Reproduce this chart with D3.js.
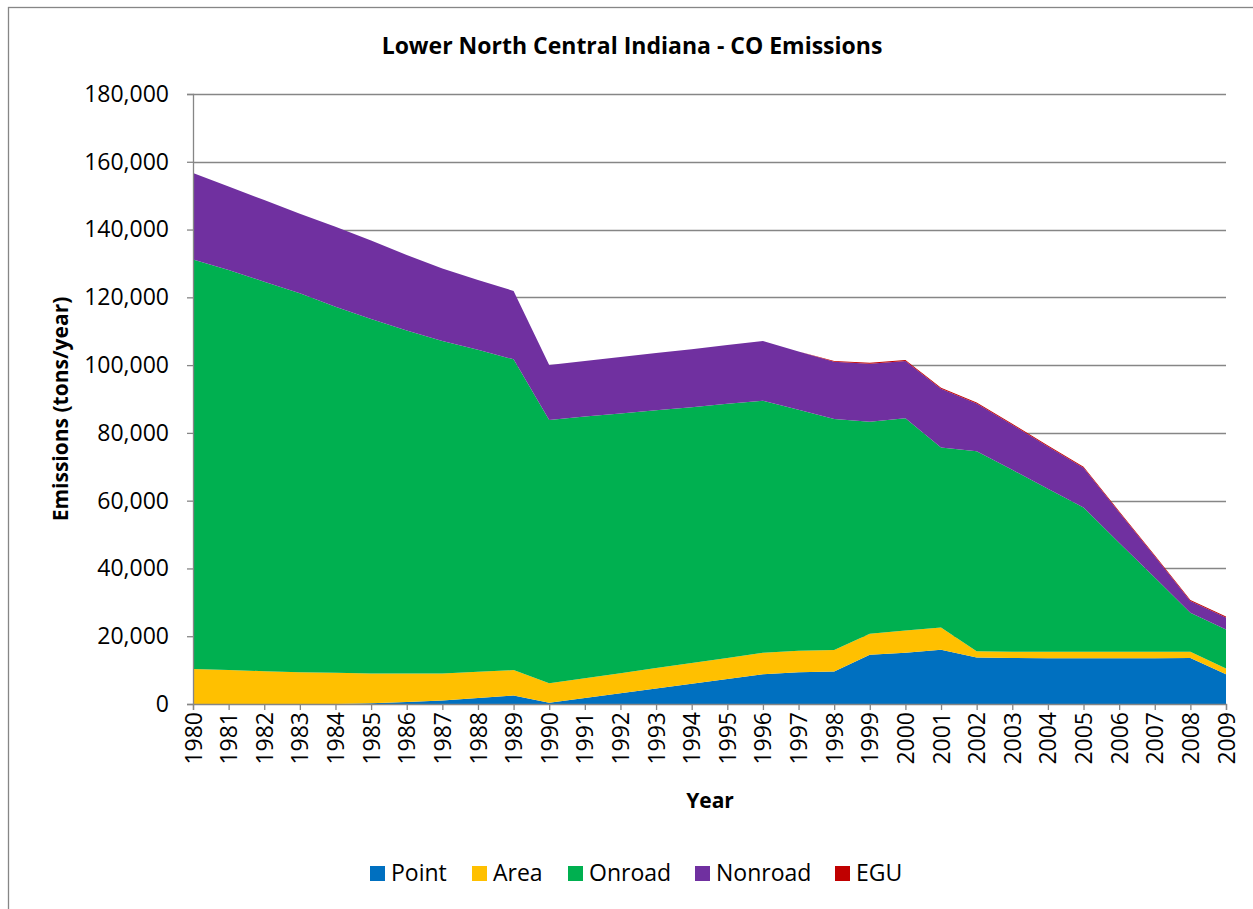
<!DOCTYPE html>
<html>
<head>
<meta charset="utf-8">
<script src="https://cdn.jsdelivr.net/npm/d3@7"></script>
<style>
  body { margin: 0; background: #fff; }
  svg { display: block; }
</style>
</head>
<body>
<div id="container"></div>
<script>
/* DATA (tons/year) */
const years = d3.range(1980, 2010)
const keys = ["Point", "Area", "Onroad", "Nonroad", "EGU"]
const colors = ["#0070C0", "#FFC000", "#00B050", "#7030A0", "#C00000"]

const point = [0, 0, 0, 0, 0, 200, 600, 1000, 1800, 2500,
  400, 1800, 3200, 4600, 6000, 7400, 8800, 9400, 9600, 14500,
  15100, 16000, 13700, 13600, 13500, 13500, 13500, 13500, 13600, 8800]
const area = [10300, 10000, 9700, 9400, 9200, 8800, 8400, 8000, 7700, 7500,
  5700, 5800, 5900, 6000, 6100, 6200, 6300, 6300, 6300, 6200,
  6600, 6600, 1900, 1800, 1900, 1900, 1900, 1900, 1800, 1700]
const onroad = [120900, 118100, 114900, 111800, 108000, 104600, 101200, 98100, 95000, 91700,
  77700, 77200, 76600, 76100, 75500, 75000, 74400, 71100, 68200, 62600,
  62600, 53100, 59000, 53700, 48100, 42600, 32200, 21900, 11500, 11500]
const nonroad = [25500, 24600, 24100, 23500, 23600, 23200, 22300, 21400, 20600, 20200,
  16200, 16400, 16700, 16900, 17100, 17300, 17600, 17200, 16900, 17100,
  16900, 17300, 14100, 13300, 12500, 11700, 9000, 6300, 3500, 3500]
const egu = [0, 0, 0, 0, 0, 0, 0, 0, 0, 0,
  0, 0, 0, 0, 0, 0, 0, 0, 200, 300,
  300, 300, 300, 300, 300, 300, 300, 300, 300, 300]
const yTicks = [0, 20000, 40000, 60000, 80000, 100000, 120000, 140000, 160000, 180000]

/* CONSTANTS */
const width = 1253
const height = 909
const margin = { top: 94, bottom: 205, left: 193, right: 27 }
const grey = "#868686"
const font = "'Open Sans', 'DejaVu Sans', sans-serif"

const table = years.map((yr, i) => ({
  year: yr, Point: point[i], Area: area[i], Onroad: onroad[i], Nonroad: nonroad[i], EGU: egu[i]
}))

/* SCALES */
const xScale = d3.scaleLinear()
  .domain([1980, 2009])
  .range([margin.left, width - margin.right])

const yScale = d3.scaleLinear()
  .domain([0, 180000])
  .range([height - margin.bottom, margin.top])

const color = d3.scaleOrdinal().domain(keys).range(colors)

/* SVG */
const svg = d3.select("#container")
  .append("svg")
  .attr("width", width)
  .attr("height", height)
  .style("font-family", font)

// chart frame (runs off the page like the source)
svg.append("rect")
  .attr("x", 8.5).attr("y", 7.5)
  .attr("width", 1300).attr("height", 1000)
  .attr("fill", "none")
  .attr("stroke", grey)
  .attr("stroke-width", 1.3)

// gridlines
svg.append("g")
  .selectAll("line")
  .data(yTicks.slice(1))
  .join("line")
  .attr("x1", margin.left)
  .attr("x2", width - margin.right)
  .attr("y1", d => Math.round(yScale(d)) + 0.5)
  .attr("y2", d => Math.round(yScale(d)) + 0.5)
  .attr("stroke", grey)
  .attr("stroke-width", 1.3)

// stacked areas
const series = d3.stack().keys(keys)(table)
const area_gen = d3.area()
  .x(d => xScale(d.data.year))
  .y0(d => yScale(d[0]))
  .y1(d => yScale(d[1]))

svg.append("g")
  .selectAll("path")
  .data(series)
  .join("path")
  .attr("d", area_gen)
  .attr("fill", d => color(d.key))

// y axis
const yAxis = d3.axisLeft(yScale)
  .tickValues(yTicks)
  .tickFormat(d3.format(","))
  .tickSize(6)
  .tickPadding(18)
const gy = svg.append("g")
  .attr("transform", `translate(${margin.left},0)`)
  .call(yAxis)
gy.select(".domain").attr("stroke", grey).attr("stroke-width", 1.3)
gy.selectAll(".tick line").attr("stroke", grey).attr("stroke-width", 1.3)
gy.selectAll("text")
  .attr("fill", "#000")
  .style("font-size", "23px")
  .style("font-family", font)

// x axis
const xAxis = d3.axisBottom(xScale)
  .tickValues(years)
  .tickFormat(d3.format("d"))
  .tickSize(6)
const gx = svg.append("g")
  .attr("transform", `translate(0,${height - margin.bottom})`)
  .call(xAxis)
gx.select(".domain").attr("stroke", grey).attr("stroke-width", 1.3)
gx.selectAll(".tick line").attr("stroke", grey).attr("stroke-width", 1.3)
gx.selectAll("text")
  .attr("fill", "#000")
  .style("font-size", "23px")
  .style("font-family", font)
  .attr("transform", "rotate(-90)")
  .attr("text-anchor", "end")
  .attr("dy", "0.35em")
  .attr("x", -8)
  .attr("y", 0)

// title
svg.append("text")
  .attr("x", 632).attr("y", 54)
  .attr("text-anchor", "middle")
  .style("font-size", "23px")
  .style("font-weight", "bold")
  .text("Lower North Central Indiana - CO Emissions")

// axis titles
svg.append("text")
  .attr("x", 710).attr("y", 808)
  .attr("text-anchor", "middle")
  .style("font-size", "21px")
  .style("font-weight", "bold")
  .text("Year")

svg.append("text")
  .attr("transform", "translate(68,409) rotate(-90)")
  .attr("text-anchor", "middle")
  .style("font-size", "21px")
  .style("font-weight", "bold")
  .text("Emissions (tons/year)")

// legend
const legendX = [370, 472, 568, 695, 835]
const legend = svg.append("g")
  .selectAll("g")
  .data(keys)
  .join("g")
  .attr("transform", (d, i) => `translate(${legendX[i]},866)`)
legend.append("rect")
  .attr("width", 15).attr("height", 15)
  .attr("fill", d => color(d))
legend.append("text")
  .attr("x", 21).attr("y", 15)
  .style("font-size", "23px")
  .text(d => d)
</script>
</body>
</html>
